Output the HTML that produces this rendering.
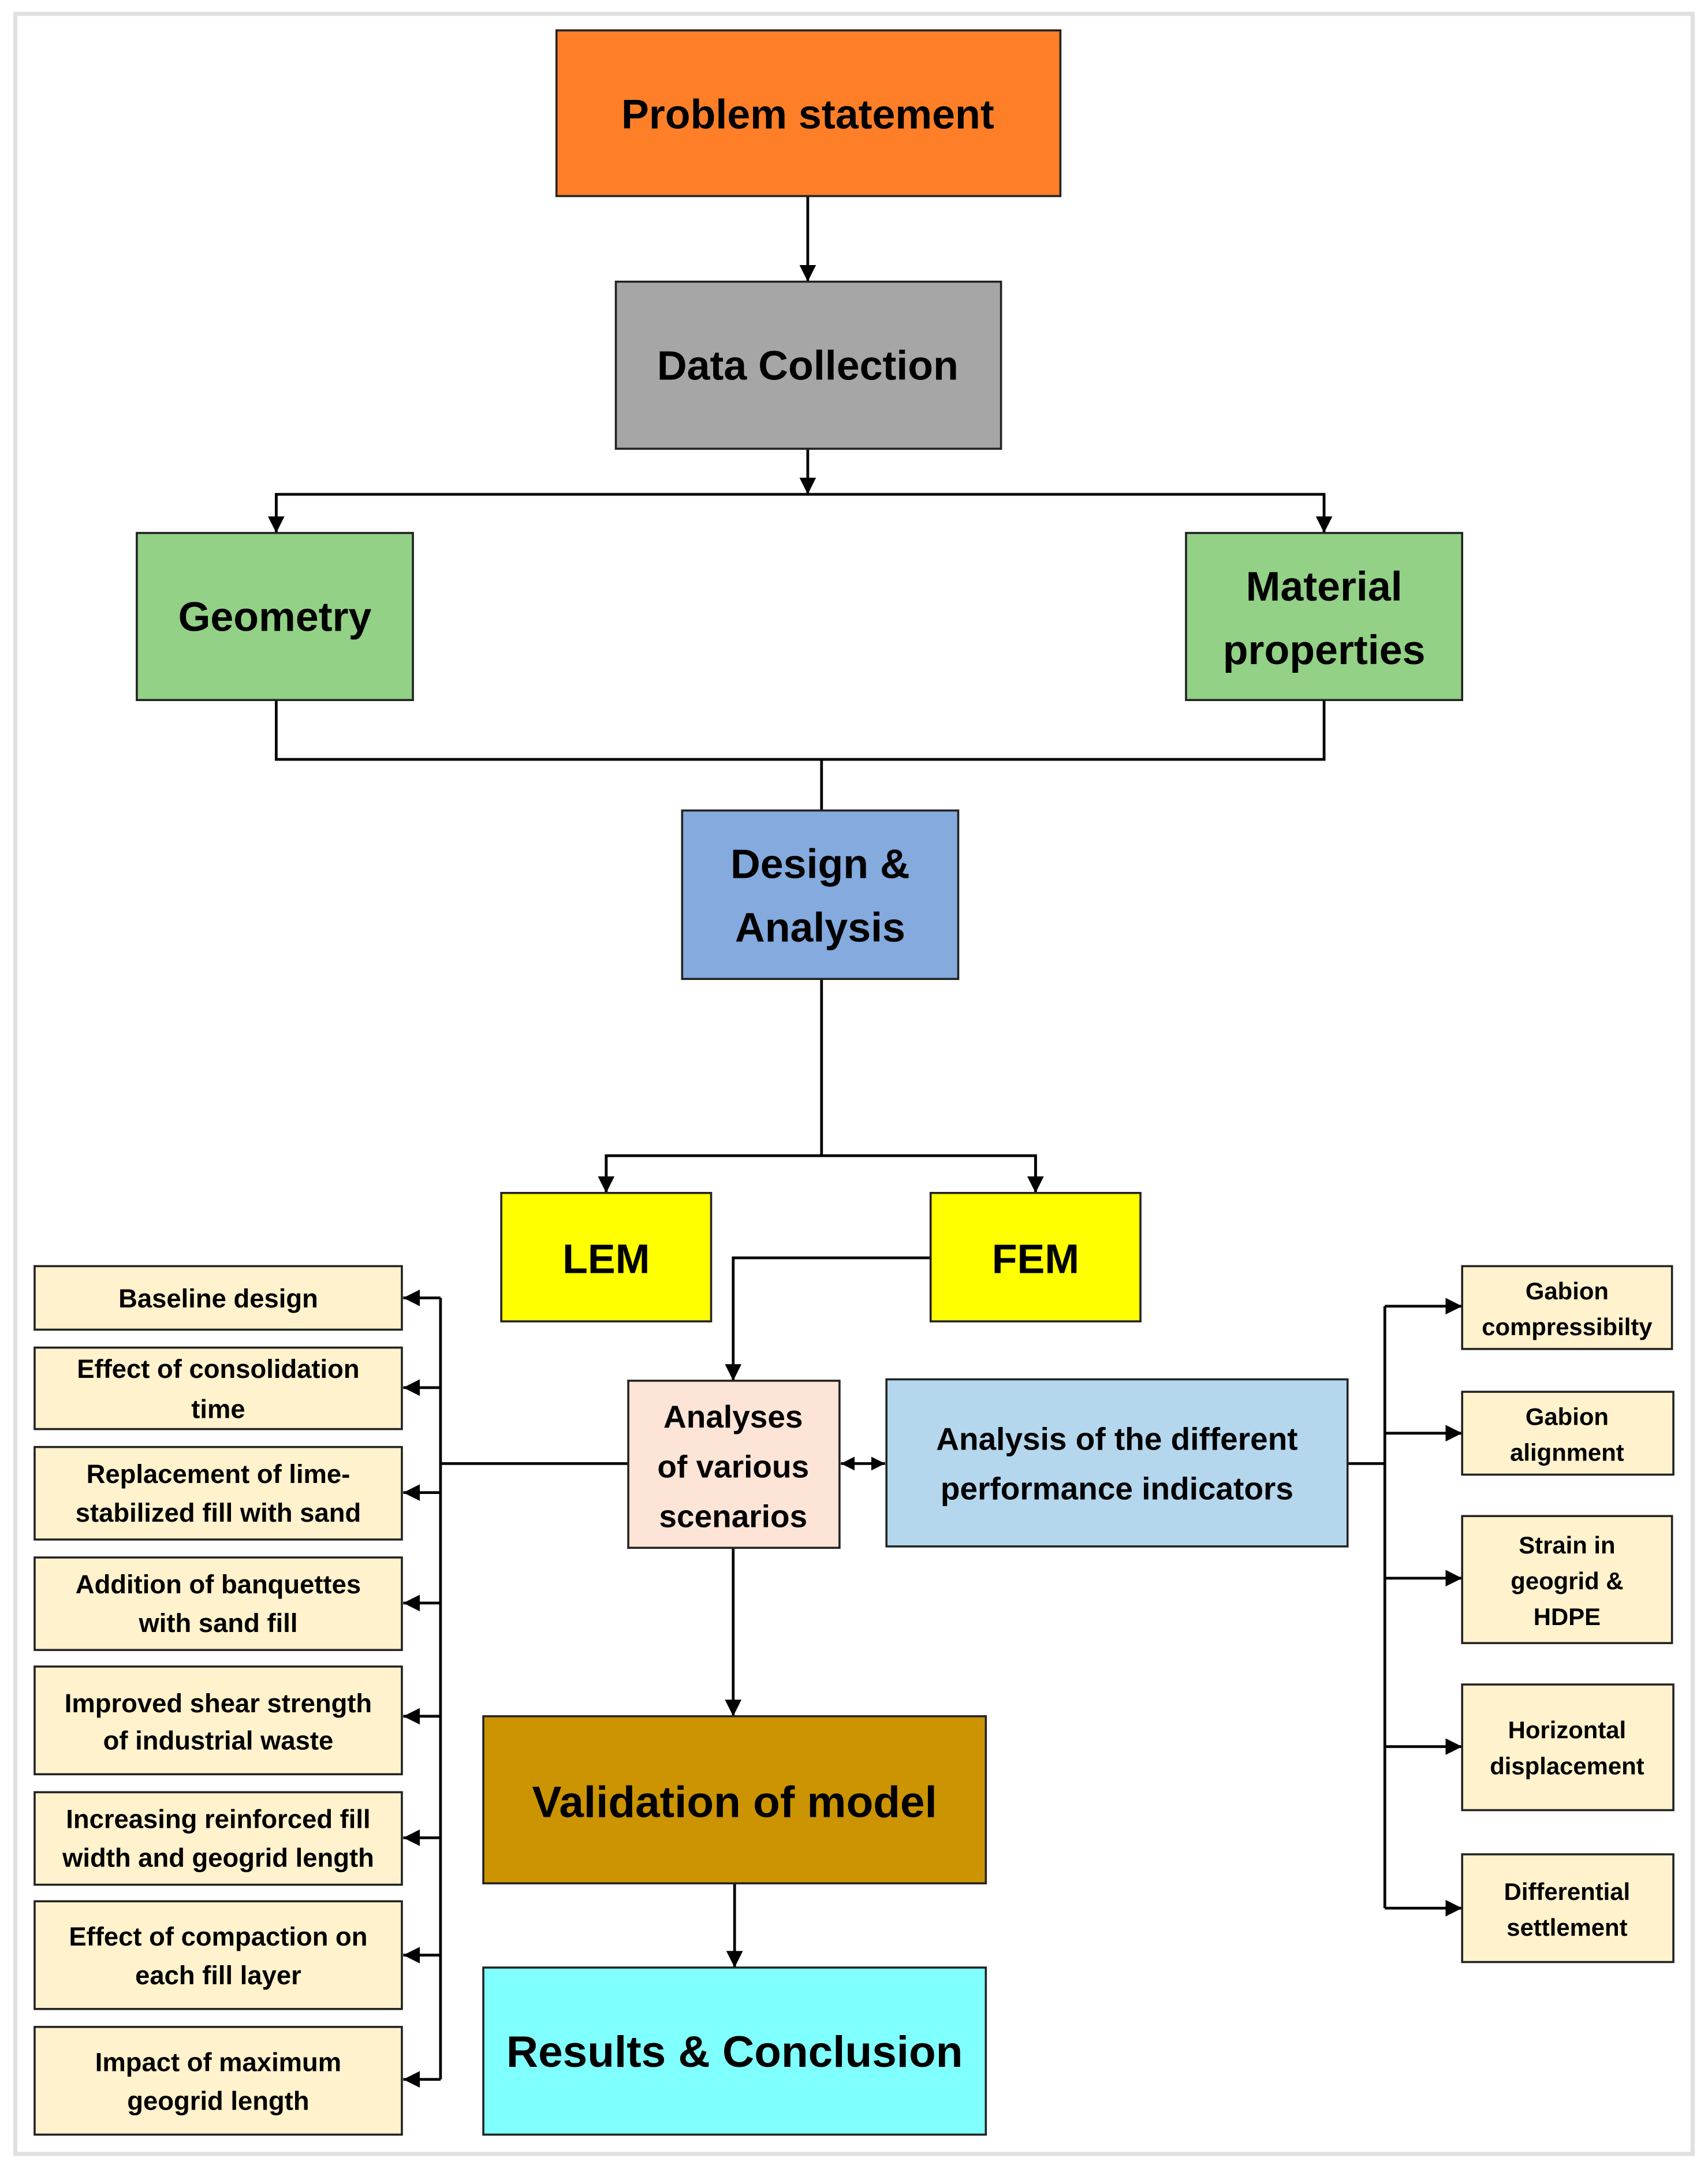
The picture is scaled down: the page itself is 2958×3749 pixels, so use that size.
<!DOCTYPE html>
<html><head><meta charset="utf-8"><style>
html,body{margin:0;padding:0;background:#fff}
svg{display:block}
text{font-family:"Liberation Sans",sans-serif;font-weight:bold;fill:#000;text-anchor:middle}
</style></head><body>
<svg width="2958" height="3749" viewBox="0 0 1237 1568" xmlns="http://www.w3.org/2000/svg">
<defs>
<marker id="a" viewBox="0 0 10 10" refX="10" refY="5" markerWidth="13" markerHeight="12" markerUnits="userSpaceOnUse" orient="auto"><path d="M0,0L10,5L0,10z" fill="#000"/></marker>
<marker id="as" viewBox="0 0 10 10" refX="10" refY="5" markerWidth="10" markerHeight="10" markerUnits="userSpaceOnUse" orient="auto-start-reverse"><path d="M0,0L10,5L0,10z" fill="#000"/></marker>
</defs>
<rect x="11" y="10" width="1215" height="1550" fill="none" stroke="#e0e0e0" stroke-width="3"/>
<g stroke="#000" stroke-width="2" fill="none">
<line x1="585" y1="142" x2="585" y2="204" marker-end="url(#a)"/>
<line x1="585" y1="325" x2="585" y2="358" marker-end="url(#a)"/>
<polyline points="200,386 200,358 959,358 959,386"/>
<line x1="200" y1="358" x2="200" y2="386" marker-end="url(#a)"/>
<line x1="959" y1="358" x2="959" y2="386" marker-end="url(#a)"/>
<polyline points="200,507 200,550 959,550 959,507"/>
<line x1="595" y1="550" x2="595" y2="587"/>
<polyline points="595,709 595,837"/>
<polyline points="439,864 439,837 750,837 750,864"/>
<line x1="439" y1="837" x2="439" y2="864" marker-end="url(#a)"/>
<line x1="750" y1="837" x2="750" y2="864" marker-end="url(#a)"/>
<polyline points="674,911 531,911 531,1000" marker-end="url(#a)"/>
<line x1="609" y1="1060" x2="641" y2="1060" marker-start="url(#as)" marker-end="url(#as)"/>
<line x1="531" y1="1121" x2="531" y2="1243" marker-end="url(#a)"/>
<line x1="532" y1="1364" x2="532" y2="1425" marker-end="url(#a)"/>
<line x1="455" y1="1060" x2="319" y2="1060"/>
<line x1="319" y1="940" x2="319" y2="1506"/>
<line x1="319" y1="940" x2="292" y2="940" marker-end="url(#a)"/>
<line x1="319" y1="1005" x2="292" y2="1005" marker-end="url(#a)"/>
<line x1="319" y1="1081" x2="292" y2="1081" marker-end="url(#a)"/>
<line x1="319" y1="1161" x2="292" y2="1161" marker-end="url(#a)"/>
<line x1="319" y1="1243" x2="292" y2="1243" marker-end="url(#a)"/>
<line x1="319" y1="1331" x2="292" y2="1331" marker-end="url(#a)"/>
<line x1="319" y1="1416" x2="292" y2="1416" marker-end="url(#a)"/>
<line x1="319" y1="1506" x2="292" y2="1506" marker-end="url(#a)"/>
<line x1="976" y1="1060" x2="1003" y2="1060"/>
<line x1="1003" y1="946" x2="1003" y2="1382"/>
<line x1="1003" y1="946" x2="1059" y2="946" marker-end="url(#a)"/>
<line x1="1003" y1="1038" x2="1059" y2="1038" marker-end="url(#a)"/>
<line x1="1003" y1="1143" x2="1059" y2="1143" marker-end="url(#a)"/>
<line x1="1003" y1="1265" x2="1059" y2="1265" marker-end="url(#a)"/>
<line x1="1003" y1="1382" x2="1059" y2="1382" marker-end="url(#a)"/>
</g>
<g stroke="#222" stroke-width="1.5">
<rect x="403" y="22" width="365" height="120" fill="#fe7f28"/>
<rect x="446" y="204" width="279" height="121" fill="#a6a6a6"/>
<rect x="99" y="386" width="200" height="121" fill="#93d186"/>
<rect x="859" y="386" width="200" height="121" fill="#93d186"/>
<rect x="494" y="587" width="200" height="122" fill="#84aade"/>
<rect x="363" y="864" width="152" height="93" fill="#ffff00"/>
<rect x="674" y="864" width="152" height="93" fill="#ffff00"/>
<rect x="455" y="1000" width="153" height="121" fill="#fce4d6"/>
<rect x="642" y="999" width="334" height="121" fill="#b4d7ee"/>
<rect x="350" y="1243" width="364" height="121" fill="#cc9400"/>
<rect x="350" y="1425" width="364" height="121" fill="#80ffff"/>
<g fill="#fff2cc">
<rect x="25" y="917" width="266" height="46"/>
<rect x="25" y="976" width="266" height="59"/>
<rect x="25" y="1048" width="266" height="67"/>
<rect x="25" y="1128" width="266" height="67"/>
<rect x="25" y="1207" width="266" height="78"/>
<rect x="25" y="1298" width="266" height="67"/>
<rect x="25" y="1377" width="266" height="78"/>
<rect x="25" y="1468" width="266" height="78"/>
<rect x="1059" y="917" width="152" height="60"/>
<rect x="1059" y="1008" width="153" height="60"/>
<rect x="1059" y="1098" width="152" height="92"/>
<rect x="1059" y="1220" width="153" height="91"/>
<rect x="1059" y="1343" width="153" height="78"/>
</g>
</g>
<text x="585" y="93" font-size="30">Problem statement</text>
<text x="585" y="275" font-size="30">Data Collection</text>
<text x="199" y="457" font-size="30">Geometry</text>
<text x="959" y="435" font-size="30">Material</text>
<text x="959" y="481" font-size="30">properties</text>
<text x="594" y="636" font-size="30">Design &amp;</text>
<text x="594" y="682" font-size="30">Analysis</text>
<text x="439" y="922" font-size="30">LEM</text>
<text x="750" y="922" font-size="30">FEM</text>
<text x="531" y="1034" font-size="23">Analyses</text>
<text x="531" y="1070" font-size="23">of various</text>
<text x="531" y="1106" font-size="23">scenarios</text>
<text x="809" y="1050" font-size="23">Analysis of the different</text>
<text x="809" y="1086" font-size="23">performance indicators</text>
<text x="532" y="1316" font-size="32">Validation of model</text>
<text x="532" y="1497" font-size="32">Results &amp; Conclusion</text>
<g font-size="19">
<text x="158" y="947">Baseline design</text>
<text x="158" y="998">Effect of consolidation</text>
<text x="158" y="1027">time</text>
<text x="158" y="1074">Replacement of lime-</text>
<text x="158" y="1102">stabilized fill with sand</text>
<text x="158" y="1154">Addition of banquettes</text>
<text x="158" y="1182">with sand fill</text>
<text x="158" y="1240">Improved shear strength</text>
<text x="158" y="1267">of industrial waste</text>
<text x="158" y="1324">Increasing reinforced fill</text>
<text x="158" y="1352">width and geogrid length</text>
<text x="158" y="1409">Effect of compaction on</text>
<text x="158" y="1437">each fill layer</text>
<text x="158" y="1500">Impact of maximum</text>
<text x="158" y="1528">geogrid length</text>
</g>
<g font-size="17.5">
<text x="1135" y="941">Gabion</text>
<text x="1135" y="967">compressibilty</text>
<text x="1135" y="1032">Gabion</text>
<text x="1135" y="1058">alignment</text>
<text x="1135" y="1125">Strain in</text>
<text x="1135" y="1151">geogrid &amp;</text>
<text x="1135" y="1177">HDPE</text>
<text x="1135" y="1259">Horizontal</text>
<text x="1135" y="1285">displacement</text>
<text x="1135" y="1376">Differential</text>
<text x="1135" y="1402">settlement</text>
</g>
</svg>
</body></html>
